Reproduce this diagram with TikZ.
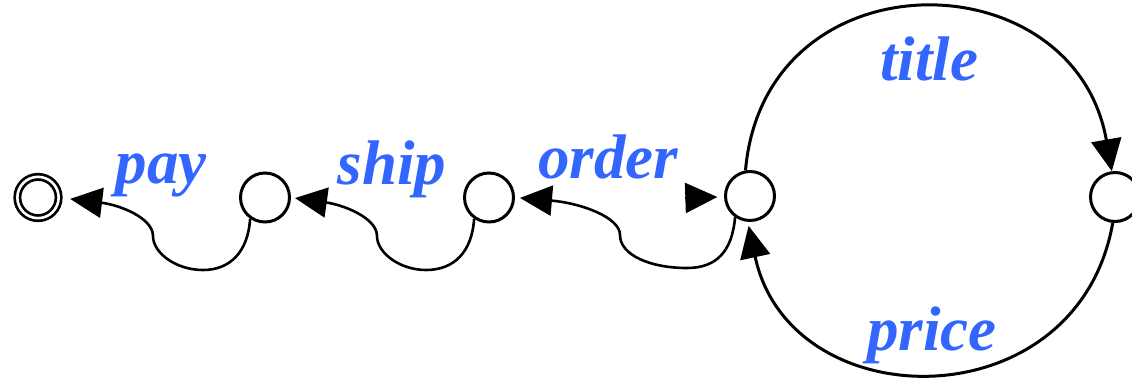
\documentclass[tikz,border=0pt]{standalone}
\usepackage{fontspec}
\setmainfont{Liberation Serif}
\usetikzlibrary{arrows.meta}
\definecolor{lblue}{RGB}{51,102,255}
\begin{document}
\begin{tikzpicture}[x=1pt,y=1pt,
  state/.style={circle,draw,line width=3pt,minimum size=49pt,inner sep=0pt},
  final/.style={circle,draw,double,double distance=2.6pt,line width=2.7pt,minimum size=41.3pt,inner sep=0pt,outer sep=0pt},
  edge/.style={line width=2.6pt,-{Triangle[length=32pt,width=30pt]}},
  lbl/.style={text=lblue,font=\fontsize{63}{63}\selectfont\bfseries\itshape,anchor=base,inner sep=0pt}]
\useasboundingbox (0,0) rectangle (1132,-378);
\node[final] (q0) at (38,-197.5) {};
\node[state] (q1) at (265,-197.5) {};
\node[state] (q2) at (489,-197.5) {};
\node[state] (q3) at (750,-196) {};
\node[state] (q4) at (1115,-197) {};
\coordinate (init) at (685,-198);
\node[lbl] (lpay) at (161,-183) {pay};
\node[lbl] (lship) at (392,-184) {ship};
\node[lbl] (lorder) at (608,-178) {order};
\node[lbl] (ltitle) at (929,-80) {title};
\node[lbl] (lprice) at (932,-350) {price};
\draw[edge,shorten >=11.6pt] (q1.-125) .. controls (248,-252) and (230,-270) .. (203,-270) .. controls (176,-270) and (153,-253) .. (153,-236) .. controls (153,-218) and (120,-205) .. (q0.east);
\draw[edge,shorten >=4pt] (q2.-125) .. controls (472,-252) and (454,-270) .. (426,-270) .. controls (400,-270) and (377,-253) .. (377,-236) .. controls (377,-218) and (344,-205) .. (q1.east);
\draw[edge,shorten >=5pt] (q3.-125) .. controls (732,-252) and (716,-268) .. (687,-268) .. controls (650,-268) and (620,-255) .. (620,-235) .. controls (620,-217) and (580,-203) .. (q2.east);
\draw[edge,shorten >=6.7pt] (init) -- (q3);
\draw[edge,line width=3pt] (q3.100) to[out=85,in=100,looseness=1.52] (q4.97);
\draw[edge,line width=3pt,shorten >=4pt] (q4.-95) to[out=-100,in=-78,looseness=1.42] (q3.-95);
\end{tikzpicture}
\end{document}
